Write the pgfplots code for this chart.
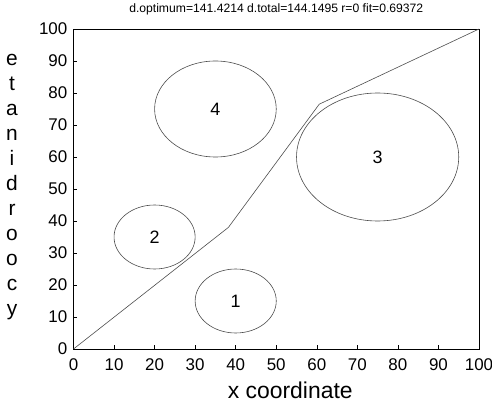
\documentclass[border=0pt]{standalone}
\usepackage{pgfplots}
\pgfplotsset{compat=1.18}
\usepackage{pgfplotstable}
\usepackage{fontspec}
\setmainfont{Liberation Sans}
\pgfplotstableread{
x y
0 0
38.2 38.0
60.6 76.5
100 100
}\route
\pgfplotstableread{
x y r label
40 15 10 1
20 35 10 2
75 60 20 3
35 75 15 4
}\sites
\begin{document}
\begin{tikzpicture}
\begin{axis}[
  at={(0,0)}, anchor=south west,
  scale only axis, width=405.5bp, height=320bp,
  xmin=0, xmax=100, ymin=0, ymax=100,
  xtick={0,10,...,100}, ytick={0,10,...,100},
  xtick pos=left, ytick pos=left, tick align=inside,
  major tick length=4bp,
  axis line style={line width=0.7pt},
  tick style={line width=0.6pt, black},
  /pgf/number format/assume math mode=true,
  tick label style={font=\fontsize{17}{17}\selectfont},
  xticklabel style={anchor=base, yshift=-21bp},
  yticklabel style={anchor=east, inner sep=0pt, xshift=-6bp},
  title={d.optimum=141.4214 d.total=144.1495 r=0 fit=0.69372},
  title style={at={(axis description cs:0.5,1)}, anchor=base, yshift=11bp, inner sep=0pt, font=\fontsize{12.2}{12.2}\selectfont},
  xlabel={x coordinate},
  xlabel style={at={(axis description cs:0.5,0)}, anchor=base, yshift=-49bp, xshift=14bp, inner sep=0pt, font=\fontsize{23}{23}\selectfont},
  ylabel={e\\t\\a\\n\\i\\d\\r\\o\\o\\c\\y},
  ylabel style={at={(axis description cs:0,0.505)}, rotate=-90, anchor=center, align=center, xshift=-61.5bp, inner sep=0pt, font=\fontsize{21}{25.1}\selectfont},
  clip=false,
]
\addplot[line width=0.6pt, color=black!70, mark=none] table[x=x, y=y] {\route};
\draw[line width=0.6pt, black!70] (axis cs:40,15) ellipse [x radius=10, y radius=10];
\draw[line width=0.6pt, black!70] (axis cs:20,35) ellipse [x radius=10, y radius=10];
\draw[line width=0.6pt, black!70] (axis cs:75,60) ellipse [x radius=20, y radius=20];
\draw[line width=0.6pt, black!70] (axis cs:35,75) ellipse [x radius=15, y radius=15];
\addplot[draw=none, mark=none, nodes near coords, point meta=explicit symbolic,
  every node near coord/.append style={anchor=center, font=\fontsize{18}{18}\selectfont}]
  table[x=x, y=y, meta=label] {\sites};
\end{axis}
\pgfresetboundingbox
\path[use as bounding box] (-73.5bp,-54bp) rectangle (418.5bp,349bp);
\end{tikzpicture}
\end{document}
